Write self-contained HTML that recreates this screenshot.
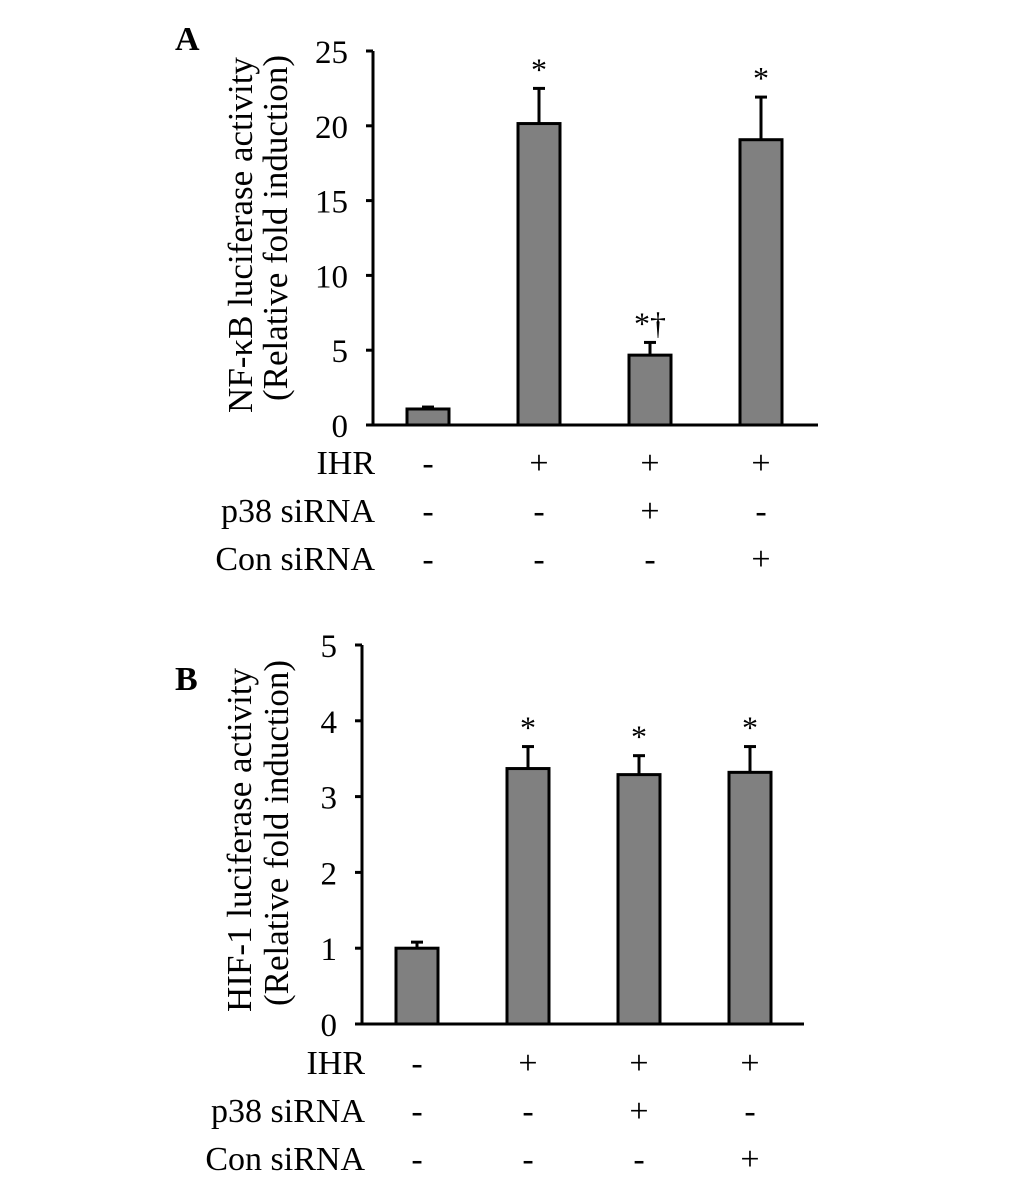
<!DOCTYPE html>
<html><head><meta charset="utf-8"><style>
html,body{margin:0;padding:0;background:#fff;}
svg text{font-family:"Liberation Serif",serif;fill:#000;}
</style></head><body>
<svg id="fig" width="1033" height="1178" viewBox="0 0 1033 1178" xmlns="http://www.w3.org/2000/svg">
<text x="175" y="50" font-size="34" font-weight="bold">A</text>
<text x="175" y="690" font-size="34" font-weight="bold">B</text>
<g id="pa"></g>
<g id="pb"></g>
</svg>
<script>
const rowLabels = ["IHR", "p38 siRNA", "Con siRNA"];
const rowSigns = [["-","+","+","+"],["-","-","+","-"],["-","-","-","+"]];
const aValues = [1.07, 20.15, 4.67, 19.07];
const aErrors = [0.13, 2.35, 0.85, 2.85];
const aMarks = ["", "*", "*†", "*"];
const aTicks = ["0","5","10","15","20","25"];
const bValues = [1.0, 3.37, 3.29, 3.32];
const bErrors = [0.08, 0.29, 0.25, 0.34];
const bMarks = ["", "*", "*", "*"];
const bTicks = ["0","1","2","3","4","5"];

const NS = "http://www.w3.org/2000/svg";
function mk(parent, tag, attrs, txt){
  const e = document.createElementNS(NS, tag);
  for (const k in attrs) e.setAttribute(k, attrs[k]);
  if (txt !== undefined) e.textContent = txt;
  parent.appendChild(e); return e;
}
function panel(g, cfg, values, errors, marks, ticks){
  const y = v => cfg.y0 - v / cfg.max * (cfg.y0 - cfg.yTop);
  const x = i => cfg.x0 + cfg.firstC + i * cfg.step;
  const ya = mk(g, "line", {x1:cfg.x0, y1:cfg.yTop, x2:cfg.x0, y2:cfg.y0+1.5, stroke:"#000", "stroke-width":3});
  
  
  const xa = mk(g, "line", {x1:cfg.x0-7, y1:cfg.y0, x2:cfg.xEnd, y2:cfg.y0, stroke:"#000", "stroke-width":3});
  
  
  ticks.forEach((t, i) => {
    const v = cfg.max * i / (ticks.length - 1);
    const tk = mk(g, "line", {x1:cfg.x0-7, y1:y(v), x2:cfg.x0, y2:y(v), stroke:"#000", "stroke-width":3});
    
    
    const tl = mk(g, "text", {x:cfg.tickR, y:y(v)+12, "font-size":33, "text-anchor":"end"}, t);
    
    
  });
  values.forEach((v, i) => {
    const cx = x(i), top = y(v), et = y(v + errors[i]);
    const eb = mk(g, "line", {x1:cx, y1:top, x2:cx, y2:et, stroke:"#000", "stroke-width":3});
    
    
    const ec = mk(g, "line", {x1:cx-6, y1:et, x2:cx+6, y2:et, stroke:"#000", "stroke-width":3});
    
    
    const r = mk(g, "rect", {x:cx-21, y:top, width:42, height:cfg.y0-top, fill:"#808080", stroke:"#000", "stroke-width":3});
    
    
    if (marks[i]) {
      const m = mk(g, "text", {x:cx, y:et - 8, "font-size":32, "text-anchor":"middle"}, marks[i]);
      
      
    }
  });
  const t1 = mk(g, "text", {x:0, y:0, "font-size":35, "text-anchor":"middle", transform:`translate(${cfg.t1x},${cfg.t1y}) rotate(-90)`}, cfg.title);
  
  
  const t2 = mk(g, "text", {x:0, y:0, "font-size":35, "text-anchor":"middle", transform:`translate(${cfg.t2x},${cfg.t2y}) rotate(-90)`}, "(Relative fold induction)");
  
  
  rowLabels.forEach((lab, r) => {
    const by = cfg.rowY + r * 48;
    const l = mk(g, "text", {x:cfg.labR, y:by, "font-size":34, "text-anchor":"end"}, lab);
    
    
    rowSigns[r].forEach((s, i) => {
      const st = mk(g, "text", {x:x(i), y:by, "font-size":34, "text-anchor":"middle"}, s);
      
      
    });
  });
}
panel(document.getElementById("pa"),
  {x0:373, y0:425, yTop:51, max:25, xEnd:818, firstC:55, step:111, tickR:348,
   title:"NF-κB luciferase activity", t1x:252, t1y:235, t2x:287, t2y:228, rowY:474, labR:375},
  aValues, aErrors, aMarks, aTicks);
panel(document.getElementById("pb"),
  {x0:362, y0:1024, yTop:645, max:5, xEnd:804, firstC:55, step:111, tickR:337,
   title:"HIF-1 luciferase activity", t1x:251, t1y:840, t2x:288, t2y:833, rowY:1074, labR:365},
  bValues, bErrors, bMarks, bTicks);
</script>
</body></html>
